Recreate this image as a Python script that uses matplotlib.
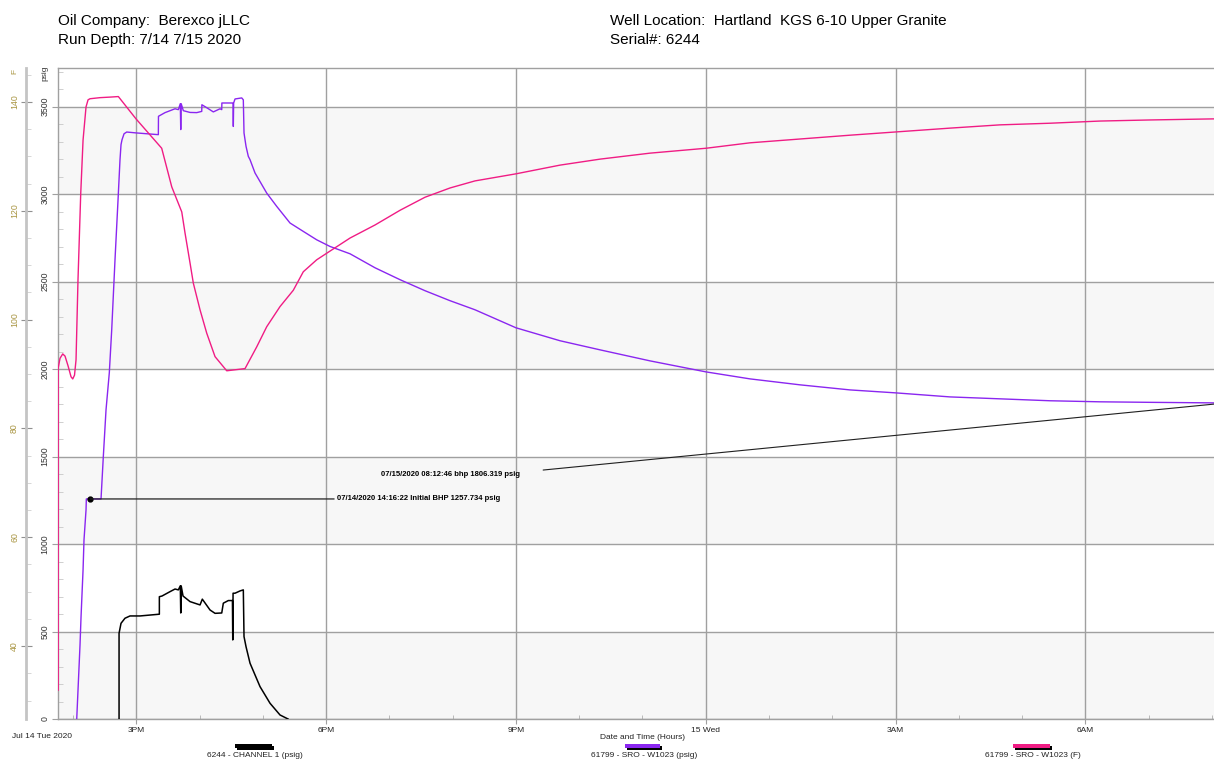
import matplotlib
matplotlib.use("Agg")
import matplotlib.pyplot as plt
from matplotlib.ticker import MultipleLocator
from matplotlib.patches import Rectangle

# ---------------- data (hours since 00:00, Jul 14 2020) ----------------
ch1_hours = [14.727, 14.727, 14.758, 14.821, 14.900, 15.058, 15.364, 15.364,
             15.406, 15.533, 15.612, 15.664, 15.695, 15.702, 15.709, 15.738,
             15.849, 16.007, 16.043, 16.165, 16.244, 16.350, 16.375, 16.454,
             16.519, 16.524, 16.529, 16.560, 16.639, 16.691, 16.702, 16.734,
             16.797, 16.955, 17.113, 17.271, 17.398]
ch1_psig = [0, 490, 547, 576, 589, 589, 599, 699,
            703, 728, 743, 738, 761, 606, 761, 703,
            671, 652, 685, 623, 604, 606, 662, 677,
            677, 452, 719, 719, 732, 738, 471, 413,
            319, 185, 90, 23, 0]

sro_p_hours = [14.058, 14.110, 14.126, 14.158, 14.173, 14.205, 14.210, 14.442,
               14.478, 14.521, 14.573, 14.611, 14.663, 14.711, 14.742, 14.758,
               14.774, 14.806, 14.848, 14.995, 15.348, 15.350, 15.454, 15.612,
               15.664, 15.695, 15.702, 15.709, 15.743, 15.849, 15.955, 16.034,
               16.036, 16.113, 16.217, 16.323, 16.350, 16.352, 16.508, 16.529,
               16.533, 16.538, 16.560, 16.666, 16.691, 16.702, 16.718, 16.734,
               16.770, 16.797, 16.876, 17.061, 17.219, 17.429, 17.639, 17.851,
               18.061, 18.378, 18.773, 19.168, 19.563, 19.958, 20.353, 21.001,
               21.697, 22.329, 23.119, 24.004, 24.700, 25.490, 26.280, 27.007,
               27.861, 28.651, 29.441, 30.231, 31.022, 32.213]
sro_psig = [0, 423, 583, 852, 1024, 1195, 1257.734, 1257.734,
            1498, 1767, 1979, 2225, 2625, 2968, 3197, 3283,
            3311, 3345, 3355, 3350, 3340, 3445, 3466, 3488,
            3483, 3517, 3369, 3517, 3477, 3467, 3466, 3473,
            3511, 3494, 3470, 3488, 3483, 3521, 3521, 3521,
            3387, 3521, 3544, 3550, 3539, 3350, 3311, 3273,
            3216, 3197, 3121, 3006, 2930, 2835, 2787, 2739,
            2701, 2659, 2579, 2511, 2448, 2391, 2339, 2236,
            2162, 2110, 2047, 1984, 1944, 1910, 1881, 1864,
            1841, 1830, 1819, 1813, 1810, 1806.319]

sro_t_hours = [13.765, 13.765, 13.794, 13.837, 13.873, 13.921, 13.968, 13.995,
               14.023, 14.047, 14.078, 14.121, 14.158, 14.205, 14.237, 14.268,
               14.426, 14.584, 14.716, 14.995, 15.401, 15.560, 15.718, 15.770,
               15.849, 15.901, 16.007, 16.113, 16.244, 16.429, 16.718, 16.903,
               17.061, 17.271, 17.481, 17.639, 17.851, 18.061, 18.378, 18.773,
               19.168, 19.563, 19.958, 20.353, 21.001, 21.697, 22.329, 23.119,
               24.004, 24.700, 25.490, 26.280, 27.007, 27.861, 28.651, 29.441,
               30.231, 31.022, 32.033, 32.213]
sro_degf = [31.9, 91.1, 92.9, 93.7, 93.3, 91.5, 89.5, 89.1,
            89.8, 92.6, 107.3, 123.1, 133.0, 139.1, 140.4, 140.6,
            140.8, 140.9, 141.0, 136.9, 131.5, 124.4, 119.8, 115.9,
            110.4, 106.7, 101.8, 97.5, 93.2, 90.6, 91.0, 95.0,
            98.7, 102.4, 105.4, 108.8, 111.0, 112.6, 115.0, 117.4,
            120.1, 122.5, 124.2, 125.5, 126.8, 128.4, 129.5, 130.6,
            131.5, 132.5, 133.2, 133.9, 134.5, 135.2, 135.8, 136.1,
            136.5, 136.7, 136.9, 137.0]

initial_bhp_hour = 14 + 16 / 60 + 22 / 3600
initial_bhp_psig = 1257.734
final_bhp_hour = 32 + 12 / 60 + 46 / 3600
final_bhp_psig = 1806.319

x_tick_hours = [15, 18, 21, 24, 27, 30]
x_tick_labels = ["3PM", "6PM", "9PM", "15 Wed", "3AM", "6AM"]
psig_ticks = [0, 500, 1000, 1500, 2000, 2500, 3000, 3500]
degf_ticks = [40, 60, 80, 100, 120, 140]

legend_labels = ["6244 - CHANNEL 1 (psig)", "61799 - SRO - W1023 (psig)",
                 "61799 - SRO - W1023 (F)"]

# ---------------- styling ----------------
C_CH1 = "#000000"
C_PSI = "#8a26f0"
C_DEG = "#f01c84"
C_GRID = "#a0a0a0"
C_TEMP_TXT = "#a89440"
small = ["Liberation Sans", "DejaVu Sans"]
head = ["Liberation Sans", "DejaVu Sans"]
PX = 0.72  # points per pixel at 100 dpi

W, H = 1214, 761
fig = plt.figure(figsize=(W / 100, H / 100), dpi=100)
ax = fig.add_axes([58 / W, 42 / H, 1156 / W, 651 / H])

ax.set_xlim(13.762, 32.033)
ax.set_ylim(0, 3721)

# alternating shaded bands
for lo in psig_ticks[::2]:
    ax.axhspan(lo, lo + 500, color="#f7f7f7", zorder=0, lw=0)

ax.set_yticks(psig_ticks)
ax.yaxis.set_minor_locator(MultipleLocator(100))
ax.set_xticks(x_tick_hours)
ax.set_xticklabels(x_tick_labels)
ax.xaxis.set_minor_locator(MultipleLocator(1))
ax.grid(True, which="major", color=C_GRID, lw=1.0, zorder=1)
ax.set_axisbelow(True)

for s in ("left", "top", "bottom"):
    ax.spines[s].set_color(C_GRID)
    ax.spines[s].set_linewidth(1.0)
ax.spines["right"].set_visible(False)

ax.tick_params(axis="y", which="major", direction="out", length=6 * PX,
               color=C_GRID, labelsize=6.3, pad=2, labelrotation=90,
               labelcolor="#333333")
ax.tick_params(axis="y", which="minor", direction="in", length=5 * PX,
               color="#c8c8c8")
ax.tick_params(axis="x", which="major", direction="out", length=5 * PX,
               color=C_GRID, labelsize=6.0, pad=2, labelcolor="#222222")
ax.tick_params(axis="x", which="minor", direction="in", length=4 * PX,
               color="#b0b0b0")
for lbl in ax.get_yticklabels():
    lbl.set_va("center")
    lbl.set_family(small)
for lbl in ax.get_xticklabels():
    lbl.set_family(small)

# temperature axis on the far left
ax2 = ax.twinx()
ax2.set_ylim(26.6, 146.25)
for s in ("right", "top", "bottom"):
    ax2.spines[s].set_visible(False)
ax2.spines["left"].set_visible(True)
ax2.spines["left"].set_position(("outward", 32 * PX))
ax2.spines["left"].set_color("#c4c4c4")
ax2.spines["left"].set_linewidth(2)
ax2.yaxis.set_ticks_position("left")
ax2.yaxis.set_label_position("left")
ax2.set_yticks(degf_ticks)
ax2.yaxis.set_minor_locator(MultipleLocator(5))
ax2.tick_params(axis="y", which="major", direction="inout", length=11 * PX,
                color="#909090", labelsize=6.3, pad=1, labelrotation=90,
                labelcolor=C_TEMP_TXT)
ax2.tick_params(axis="y", which="minor", direction="in", length=5 * PX,
                color="#d0d0d0")
for lbl in ax2.get_yticklabels():
    lbl.set_va("center")
    lbl.set_family(small)

# series
ax.plot(sro_p_hours, sro_psig, color=C_PSI, lw=1.0, zorder=3)
ax.plot(ch1_hours, ch1_psig, color=C_CH1, lw=1.1, zorder=4)
ax2.plot(sro_t_hours, sro_degf, color=C_DEG, lw=1.0, zorder=3)

# annotations (drawn on the pressure scale, placed in front)
ax3 = ax.twinx()
ax3.set_ylim(ax.get_ylim())
ax3.axis("off")
ax3.plot([initial_bhp_hour], [initial_bhp_psig], "o", color="black", ms=3.5)
ax3.annotate("07/14/2020 14:16:22 Initial BHP 1257.734 psig",
             xy=(initial_bhp_hour, initial_bhp_psig),
             xytext=(18.17, initial_bhp_psig), ha="left", va="center",
             fontsize=5.5, fontweight="bold", family=small,
             arrowprops=dict(arrowstyle="-", color="#202020", lw=0.9,
                             shrinkA=0, shrinkB=0))
ax3.text(21.07, 1395, "07/15/2020 08:12:46 bhp 1806.319 psig",
         ha="right", va="center", fontsize=5.5, fontweight="bold",
         family=small)
ax3.annotate("", xy=(final_bhp_hour, final_bhp_psig),
             xytext=(21.43, 1423), annotation_clip=False,
             arrowprops=dict(arrowstyle="-", color="#202020", lw=0.8,
                             shrinkA=0, shrinkB=0))

# axis captions
fig.text(45 / W, 1 - 73 / H, "psig", rotation=90, ha="center", va="center",
         fontsize=6.0, family=small, color="#333333")
fig.text(15 / W, 1 - 71 / H, "F", rotation=90, ha="center", va="center",
         fontsize=6.0, family=small, color=C_TEMP_TXT)
fig.text(12 / W, 1 - 737 / H, "Jul 14 Tue 2020", ha="left", va="center",
         fontsize=6.0, family=small, color="#222222")
fig.text(642.7 / W, 1 - 737.5 / H, "Date and Time (Hours)", ha="center",
         va="center", fontsize=6.0, family=small, color="#222222")

# header
fig.text(58 / W, 1 - 21 / H, "Oil Company:  Berexco jLLC", ha="left",
         va="center", fontsize=11, family=head)
fig.text(58 / W, 1 - 40 / H, "Run Depth: 7/14 7/15 2020", ha="left",
         va="center", fontsize=11, family=head)
fig.text(610 / W, 1 - 21 / H, "Well Location:  Hartland  KGS 6-10 Upper Granite",
         ha="left", va="center", fontsize=11, family=head)
fig.text(610 / W, 1 - 40 / H, "Serial#: 6244", ha="left", va="center",
         fontsize=11, family=head)

# legend swatches with drop shadow
for (x0, x1, col, lbl) in [(235, 272, C_CH1, legend_labels[0]),
                           (625, 660, C_PSI, legend_labels[1]),
                           (1013, 1050, C_DEG, legend_labels[2])]:
    fig.patches.append(Rectangle(((x0 + 2) / W, 1 - 749.5 / H),
                                 (x1 - x0) / W, 4 / H, transform=fig.transFigure,
                                 color="black", lw=0))
    fig.patches.append(Rectangle((x0 / W, 1 - 748 / H), (x1 - x0) / W, 4 / H,
                                 transform=fig.transFigure, color=col, lw=0))
    fig.text((x0 + x1) / 2 / W + 0.001, 1 - 755.5 / H, lbl, ha="center",
             va="center", fontsize=6.0, family=small, color="#222222")

fig.savefig("out.png", dpi=100)
